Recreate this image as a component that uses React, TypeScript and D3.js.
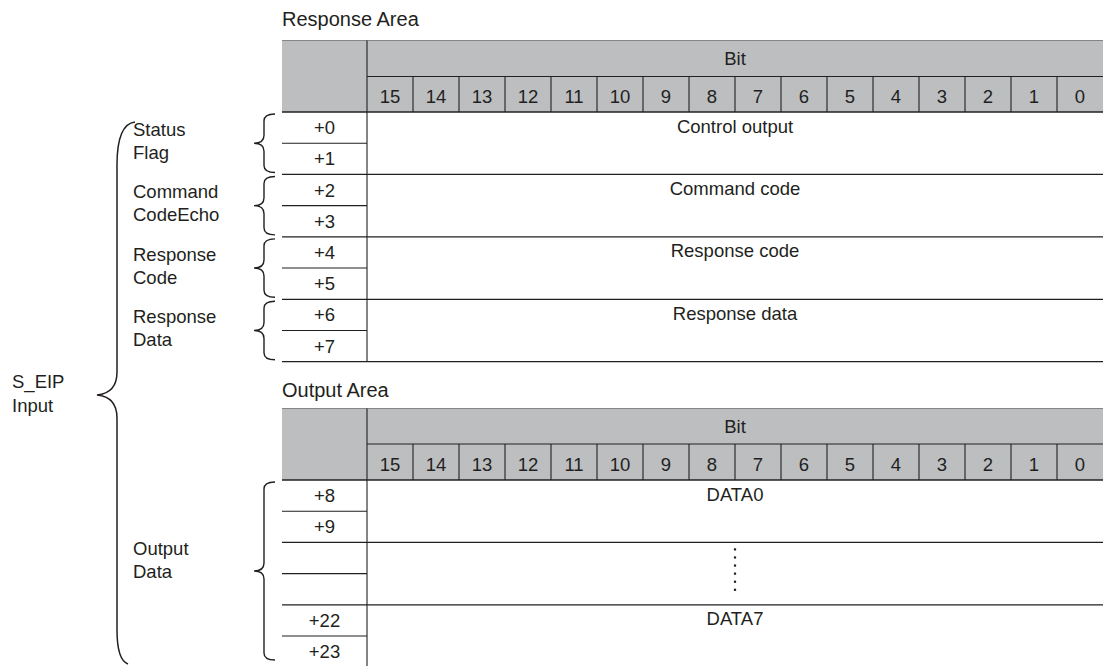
import React from "react";
import * as d3 from "d3";

// ---------- data ----------
const bits = [15, 14, 13, 12, 11, 10, 9, 8, 7, 6, 5, 4, 3, 2, 1, 0];
const responseAddresses = ["+0", "+1", "+2", "+3", "+4", "+5", "+6", "+7"];
const responseGroupLabels = [
  ["Status", "Flag"],
  ["Command", "CodeEcho"],
  ["Response", "Code"],
  ["Response", "Data"],
];
const responseContents = ["Control output", "Command code", "Response code", "Response data"];
const outputAddresses = ["+8", "+9", "", "", "+22", "+23"];
const outputContents = ["DATA0", "", "DATA7"]; // middle group is the vertical ellipsis
const outputGroupRows = [2, 2, 2];
const outputGroupLabel = ["Output", "Data"];
const outerLabel = ["S_EIP", "Input"];
const titles = ["Response Area", "Output Area"];
const bitHeader = "Bit";

// ---------- layout ----------
const W = 1111;
const H = 666;
const FONT = "'Liberation Sans', Arial, Helvetica, sans-serif";
const INK = "#231f20";
const GRAY = "#bcbec0";
const FS = 18.5;
const xLeft = 282;
const xAddr = 367;
const xRight = 1103;

const xBit = d3.scaleBand<number>().domain(bits).range([xAddr, xRight]);
const xAddrCenter = (xLeft + xAddr) / 2;
const xDataCenter = (xAddr + xRight) / 2;

const respHeader = { top: 40.5, mid: 76.5, bottom: 112 };
const outHeader = { top: 408.5, mid: 444, bottom: 480 };
const yResp = d3.scaleLinear().domain([0, responseAddresses.length]).range([112, 361.7]);
const yOut = d3.scaleLinear().domain([0, outputAddresses.length]).range([480, 667.2]);

function bracePath(xe: number, xs: number, xt: number, y0: number, y1: number, r: number, rm: number, ym?: number) {
  const m = ym ?? (y0 + y1) / 2;
  return [
    `M${xe},${y0}`,
    `Q${xs},${y0} ${xs},${y0 + r}`,
    `L${xs},${m - rm}`,
    `Q${xs},${m} ${xt},${m}`,
    `Q${xs},${m} ${xs},${m + rm}`,
    `L${xs},${y1 - r}`,
    `Q${xs},${y1} ${xe},${y1}`,
  ].join(" ");
}

function Header({ h }: { h: { top: number; mid: number; bottom: number } }) {
  return (
    <g>
      <rect x={xLeft} y={h.top} width={xRight - xLeft} height={h.bottom - h.top} fill={GRAY} />
      <line x1={xLeft} x2={xRight} y1={h.top} y2={h.top} stroke="#6d6e71" strokeWidth={0.8} />
      <line x1={xAddr} x2={xRight} y1={h.mid} y2={h.mid} stroke={INK} strokeWidth={1.1} />
      <line x1={xLeft} x2={xRight} y1={h.bottom} y2={h.bottom} stroke={INK} strokeWidth={1.3} />
      <line x1={xAddr} x2={xAddr} y1={h.top} y2={h.bottom} stroke={INK} strokeWidth={1.1} />
      {bits.slice(1).map((b) => (
        <line key={b} x1={xBit(b)!} x2={xBit(b)!} y1={h.mid} y2={h.bottom} stroke={INK} strokeWidth={1.1} />
      ))}
      <text x={xDataCenter} y={(h.top + h.mid) / 2 + 6.5} textAnchor="middle" fontSize={FS} fill={INK}>
        {bitHeader}
      </text>
      {bits.map((b) => (
        <text key={b} x={xBit(b)! + xBit.bandwidth() / 2} y={(h.mid + h.bottom) / 2 + 8.5} textAnchor="middle" fontSize={FS} fill={INK}>
          {b}
        </text>
      ))}
    </g>
  );
}

export default function App() {
  const respGroups = responseContents.map((c, i) => ({ content: c, label: responseGroupLabels[i], start: i * 2, end: i * 2 + 2 }));
  let acc = 0;
  const outGroups = outputContents.map((c, i) => {
    const g = { content: c, start: acc, end: acc + outputGroupRows[i] };
    acc += outputGroupRows[i];
    return g;
  });

  return (
    <svg width={W} height={H} style={{ position: "absolute", left: 0, top: 0, background: "#fff" }} fontFamily={FONT}>
      <rect width={W} height={H} fill="#fff" />
      {/* titles */}
      <text x={xLeft} y={25.7} fontSize={20} fill={INK}>{titles[0]}</text>
      <text x={xLeft} y={397.3} fontSize={20} fill={INK}>{titles[1]}</text>

      {/* ---------- Response area ---------- */}
      <Header h={respHeader} />
      <line x1={xAddr} x2={xAddr} y1={yResp(0)} y2={yResp(responseAddresses.length)} stroke={INK} strokeWidth={1.1} />
      {responseAddresses.map((a, i) => (
        <g key={a}>
          <text x={xAddrCenter} y={(yResp(i) + yResp(i + 1)) / 2 + 6.5} textAnchor="middle" fontSize={FS} fill={INK}>{a}</text>
          {i % 2 === 0 && (
            <line x1={xLeft} x2={xAddr} y1={yResp(i + 1)} y2={yResp(i + 1)} stroke={INK} strokeWidth={1.1} />
          )}
        </g>
      ))}
      {respGroups.map((g) => (
        <g key={g.start}>
          <line x1={xLeft} x2={xRight} y1={yResp(g.end)} y2={yResp(g.end)} stroke={INK} strokeWidth={1.3} />
          <text x={xDataCenter} y={(yResp(g.start) + yResp(g.start + 1)) / 2 + 5} textAnchor="middle" fontSize={FS} fill={INK}>{g.content}</text>
          <path d={bracePath(275, 264, 254, yResp(g.start) + 2, yResp(g.end) - 2, 7, 8)} fill="none" stroke={INK} strokeWidth={1.4} />
          <text x={133} fontSize={FS} fill={INK}>
            <tspan x={133} y={yResp(g.start) + 24}>{g.label[0]}</tspan>
            <tspan x={133} y={yResp(g.start) + 47}>{g.label[1]}</tspan>
          </text>
        </g>
      ))}

      {/* ---------- Output area ---------- */}
      <Header h={outHeader} />
      <line x1={xAddr} x2={xAddr} y1={yOut(0)} y2={yOut(outputAddresses.length)} stroke={INK} strokeWidth={1.1} />
      {outputAddresses.map((a, i) => (
        <g key={i}>
          {a && (
            <text x={xAddrCenter} y={(yOut(i) + yOut(i + 1)) / 2 + 6.5} textAnchor="middle" fontSize={FS} fill={INK}>{a}</text>
          )}
          {i % 2 === 0 && (
            <line x1={xLeft} x2={xAddr} y1={yOut(i + 1)} y2={yOut(i + 1)} stroke={INK} strokeWidth={1.1} />
          )}
        </g>
      ))}
      {outGroups.map((g, gi) => (
        <g key={gi}>
          <line x1={xLeft} x2={xRight} y1={yOut(g.end)} y2={yOut(g.end)} stroke={INK} strokeWidth={1.3} />
          {g.content ? (
            <text x={xDataCenter} y={(yOut(g.start) + yOut(g.start + 1)) / 2 + 5} textAnchor="middle" fontSize={FS} fill={INK}>{g.content}</text>
          ) : (
            d3.range(6).map((k) => {
              const top = yOut(g.start) + 7;
              const bot = yOut(g.end) - 15;
              const y = top + ((bot - top) * k) / 5;
              return <rect key={k} x={xDataCenter - 1.1} y={y - 1.1} width={2.2} height={2.2} fill={INK} />;
            })
          )}
        </g>
      ))}
      <path d={bracePath(275, 264, 254, yOut(0) + 2, 660, 7, 8, 571)} fill="none" stroke={INK} strokeWidth={1.4} />
      <text x={133} fontSize={FS} fill={INK}>
        <tspan x={133} y={555}>{outputGroupLabel[0]}</tspan>
        <tspan x={133} y={578}>{outputGroupLabel[1]}</tspan>
      </text>

      {/* ---------- outer S_EIP brace ---------- */}
      <path
        d={[
          "M135,122",
          "Q117,124 117,165",
          "L117,372",
          "Q117,393 97,395",
          "Q117,397 117,418",
          "L117,630",
          "Q117,660 128,664",
        ].join(" ")}
        fill="none"
        stroke={INK}
        strokeWidth={1.5}
      />
      <text fontSize={FS} fill={INK}>
        <tspan x={12} y={388.3}>{outerLabel[0]}</tspan>
        <tspan x={12} y={411.7}>{outerLabel[1]}</tspan>
      </text>
    </svg>
  );
}
